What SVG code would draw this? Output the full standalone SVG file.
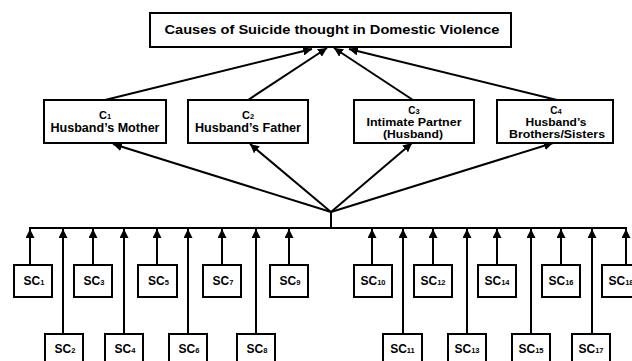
<svg xmlns="http://www.w3.org/2000/svg" width="632" height="361" viewBox="0 0 632 361">
<style>
.box{fill:#fff;stroke:#000;stroke-width:2}
.t{font-family:"Liberation Sans",Arial,sans-serif;font-weight:bold;fill:#000;text-anchor:middle}
.ln{stroke:#000;stroke-width:2;fill:none}
.sub{font-size:7.5px}
.sc{font-size:12px}
</style>
<defs>
<marker id="ah" viewBox="0 0 10 10" refX="10" refY="5" markerWidth="9" markerHeight="9" markerUnits="userSpaceOnUse" orient="auto">
<path d="M0,0 L10,5 L0,10 z" fill="#000"/>
</marker>
</defs>
<g id="connectors">
<line class="ln" x1="105" y1="100" x2="312" y2="49" marker-end="url(#ah)"/>
<line class="ln" x1="248" y1="100" x2="327" y2="48" marker-end="url(#ah)"/>
<line class="ln" x1="413" y1="100" x2="334" y2="48" marker-end="url(#ah)"/>
<line class="ln" x1="557" y1="100" x2="349" y2="49" marker-end="url(#ah)"/>
<line class="ln" x1="331" y1="212" x2="113" y2="144" marker-end="url(#ah)"/>
<line class="ln" x1="331" y1="212" x2="250" y2="144" marker-end="url(#ah)"/>
<line class="ln" x1="331" y1="212" x2="412" y2="143" marker-end="url(#ah)"/>
<line class="ln" x1="331" y1="212" x2="553" y2="143" marker-end="url(#ah)"/>
<line class="ln" x1="331" y1="212" x2="331" y2="228"/>
<line class="ln" x1="29" y1="228" x2="627" y2="228"/>
<line class="ln" x1="30" y1="265" x2="30" y2="229" marker-end="url(#ah)"/>
<line class="ln" x1="63" y1="334" x2="63" y2="229" marker-end="url(#ah)"/>
<line class="ln" x1="93" y1="265" x2="93" y2="229" marker-end="url(#ah)"/>
<line class="ln" x1="124" y1="334" x2="124" y2="229" marker-end="url(#ah)"/>
<line class="ln" x1="157" y1="265" x2="157" y2="229" marker-end="url(#ah)"/>
<line class="ln" x1="188" y1="334" x2="188" y2="229" marker-end="url(#ah)"/>
<line class="ln" x1="222" y1="265" x2="222" y2="229" marker-end="url(#ah)"/>
<line class="ln" x1="256" y1="334" x2="256" y2="229" marker-end="url(#ah)"/>
<line class="ln" x1="289" y1="265" x2="289" y2="229" marker-end="url(#ah)"/>
<line class="ln" x1="372" y1="265" x2="372" y2="229" marker-end="url(#ah)"/>
<line class="ln" x1="403" y1="334" x2="403" y2="229" marker-end="url(#ah)"/>
<line class="ln" x1="433" y1="265" x2="433" y2="229" marker-end="url(#ah)"/>
<line class="ln" x1="467" y1="334" x2="467" y2="229" marker-end="url(#ah)"/>
<line class="ln" x1="497" y1="265" x2="497" y2="229" marker-end="url(#ah)"/>
<line class="ln" x1="531" y1="334" x2="531" y2="229" marker-end="url(#ah)"/>
<line class="ln" x1="561" y1="265" x2="561" y2="229" marker-end="url(#ah)"/>
<line class="ln" x1="592" y1="334" x2="592" y2="229" marker-end="url(#ah)"/>
<line class="ln" x1="626" y1="265" x2="626" y2="229" marker-end="url(#ah)"/>
</g>
<g id="top">
<rect class="box" x="150" y="13" width="361" height="34"/>
<text class="t" x="332" y="34" font-size="12.5" textLength="335" lengthAdjust="spacingAndGlyphs">Causes of Suicide thought in Domestic Violence</text>
</g>
<g id="c1">
<rect class="box" x="44" y="100" width="122" height="43"/>
<text class="t" x="105" y="119" font-size="11">C<tspan class="sub">1</tspan></text>
<text class="t" x="105" y="132" font-size="12" textLength="109" lengthAdjust="spacingAndGlyphs">Husband’s Mother</text>
</g>
<g id="c2">
<rect class="box" x="188" y="100" width="120" height="43"/>
<text class="t" x="248" y="119" font-size="11">C<tspan class="sub">2</tspan></text>
<text class="t" x="248" y="132" font-size="12" textLength="106" lengthAdjust="spacingAndGlyphs">Husband’s Father</text>
</g>
<g id="c3">
<rect class="box" x="354" y="100" width="120" height="43"/>
<text class="t" x="414" y="114" font-size="10">C<tspan class="sub">3</tspan></text>
<text class="t" x="414" y="126" font-size="10" textLength="95" lengthAdjust="spacingAndGlyphs">Intimate Partner</text>
<text class="t" x="413" y="137.5" font-size="10" textLength="60" lengthAdjust="spacingAndGlyphs">(Husband)</text>
</g>
<g id="c4">
<rect class="box" x="497" y="100" width="116" height="43"/>
<text class="t" x="556" y="114" font-size="10">C<tspan class="sub">4</tspan></text>
<text class="t" x="556" y="126" font-size="10" textLength="61" lengthAdjust="spacingAndGlyphs">Husband’s</text>
<text class="t" x="557" y="137.5" font-size="10" textLength="96" lengthAdjust="spacingAndGlyphs">Brothers/Sisters</text>
</g>
<g id="sc1"><rect class="box" x="14" y="265" width="38" height="32"/><text class="t sc" x="34" y="285">SC<tspan class="sub">1</tspan></text></g>
<g id="sc3"><rect class="box" x="74" y="265" width="38" height="32"/><text class="t sc" x="94" y="285">SC<tspan class="sub">3</tspan></text></g>
<g id="sc5"><rect class="box" x="138" y="265" width="39" height="32"/><text class="t sc" x="158.5" y="285">SC<tspan class="sub">5</tspan></text></g>
<g id="sc7"><rect class="box" x="203" y="265" width="38" height="32"/><text class="t sc" x="223" y="285">SC<tspan class="sub">7</tspan></text></g>
<g id="sc9"><rect class="box" x="270" y="265" width="38" height="32"/><text class="t sc" x="290" y="285">SC<tspan class="sub">9</tspan></text></g>
<g id="sc2"><rect class="box" x="45" y="334" width="38" height="40"/><text class="t sc" x="65" y="353">SC<tspan class="sub">2</tspan></text></g>
<g id="sc4"><rect class="box" x="105" y="334" width="38" height="40"/><text class="t sc" x="125" y="353">SC<tspan class="sub">4</tspan></text></g>
<g id="sc6"><rect class="box" x="169" y="334" width="38" height="40"/><text class="t sc" x="189" y="353">SC<tspan class="sub">6</tspan></text></g>
<g id="sc8"><rect class="box" x="237" y="334" width="38" height="40"/><text class="t sc" x="257" y="353">SC<tspan class="sub">8</tspan></text></g>
<g id="sc10"><rect class="box" x="354" y="265" width="38" height="32"/><text class="t sc" x="373" y="285">SC<tspan class="sub">10</tspan></text></g>
<g id="sc12"><rect class="box" x="414" y="265" width="38" height="32"/><text class="t sc" x="433" y="285">SC<tspan class="sub">12</tspan></text></g>
<g id="sc14"><rect class="box" x="478" y="265" width="38" height="32"/><text class="t sc" x="497" y="285">SC<tspan class="sub">14</tspan></text></g>
<g id="sc16"><rect class="box" x="542" y="265" width="38" height="32"/><text class="t sc" x="561" y="285">SC<tspan class="sub">16</tspan></text></g>
<g id="sc18"><rect class="box" x="602" y="265" width="38" height="32"/><text class="t sc" x="621" y="285">SC<tspan class="sub">18</tspan></text></g>
<g id="sc11"><rect class="box" x="383" y="334" width="39" height="40"/><text class="t sc" x="402.5" y="353">SC<tspan class="sub">11</tspan></text></g>
<g id="sc13"><rect class="box" x="448" y="334" width="38" height="40"/><text class="t sc" x="467" y="353">SC<tspan class="sub">13</tspan></text></g>
<g id="sc15"><rect class="box" x="512" y="334" width="38" height="40"/><text class="t sc" x="531" y="353">SC<tspan class="sub">15</tspan></text></g>
<g id="sc17"><rect class="box" x="572" y="334" width="38" height="40"/><text class="t sc" x="591" y="353">SC<tspan class="sub">17</tspan></text></g>
</svg>
